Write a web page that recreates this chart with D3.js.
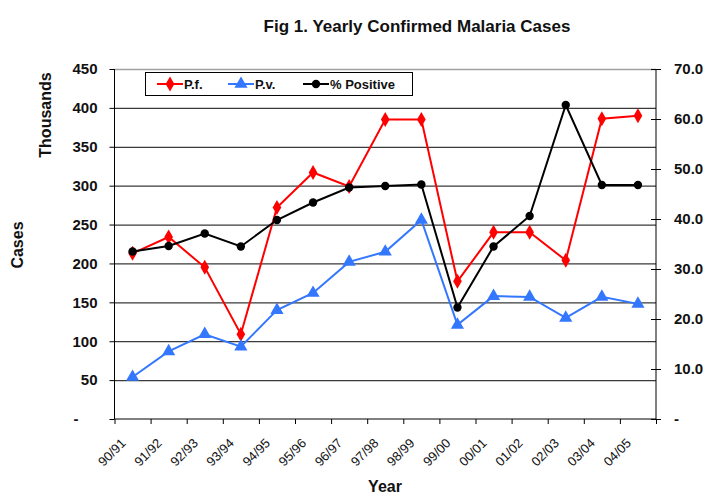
<!DOCTYPE html>
<html>
<head>
<meta charset="utf-8">
<script src="https://cdn.jsdelivr.net/npm/d3@7"></script>
<style>
  html, body { margin: 0; padding: 0; background: #fff; }
  svg { display: block; font-family: "Liberation Sans", Arial, sans-serif; }
</style>
</head>
<body>
<svg id="chart" width="705" height="494"></svg>
<script>
// ---- data ----
const categories = ["90/91","91/92","92/93","93/94","94/95","95/96","96/97","97/98","98/99","99/00","00/01","01/02","02/03","03/04","04/05"];
const pfValues  = [213, 234, 195, 109, 272, 317, 299, 385, 385, 177, 240, 240, 204, 386, 390];
const pvValues  = [54, 87, 109, 93, 140, 162, 202, 215, 256, 121, 158, 157, 130, 157, 148];
const positiveValues = [33.5, 34.6, 37.1, 34.5, 39.8, 43.3, 46.3, 46.6, 46.9, 22.3, 34.5, 40.6, 62.8, 46.8, 46.8];
const leftTicks  = [0, 50, 100, 150, 200, 250, 300, 350, 400, 450];
const rightTicks = [0, 10, 20, 30, 40, 50, 60, 70];
const seriesNames = ["P.f.", "P.v.", "% Positive"];

// ---- layout ----
const L = 114.5, R = 656, T = 69, B = 419;
const svg = d3.select("#chart");

const x = d3.scaleBand().domain(categories).range([L, R]);
const xIdx = d3.scaleLinear().domain([0, categories.length]).range([L, R]);
const yL = d3.scaleLinear().domain([0, 450]).range([B, T]);
const yR = d3.scaleLinear().domain([0, 70]).range([B, T]);

// title
svg.append("text").attr("x", 417).attr("y", 32).attr("text-anchor", "middle")
  .attr("font-size", 17).attr("font-weight", "bold").attr("fill", "#111")
  .text("Fig 1. Yearly Confirmed Malaria Cases");

// gridlines
const grid = svg.append("g").attr("transform", `translate(${L},0)`)
  .call(d3.axisLeft(yL).tickValues(leftTicks.filter(d => d > 0)).tickSize(-(R - L)).tickFormat(""));
grid.select(".domain").remove();
grid.selectAll(".tick line").attr("stroke", d => d === 450 ? "#a0a0a0" : "#3a3a3a").attr("stroke-width", 1.3);

// left axis
const ax = svg.append("g").attr("transform", `translate(${L},0)`)
  .call(d3.axisLeft(yL).tickValues(leftTicks).tickSize(5).tickPadding(12)
    .tickFormat(d => d === 0 ? "-" : d));
ax.select(".domain").attr("stroke", "#000").attr("d", `M0,${T}V${B}`);
ax.selectAll("text").attr("font-size", 15).attr("font-weight", "bold").attr("fill", "#111")
  .attr("font-family", "Liberation Sans, Arial, sans-serif");
ax.selectAll(".tick").filter(d => d === 0).select("text").attr("text-anchor", "middle").attr("x", 76 - L);

// right axis
const ar = svg.append("g").attr("transform", `translate(${R},0)`)
  .call(d3.axisRight(yR).tickValues(rightTicks).tickSize(5).tickPadding(13)
    .tickFormat(d => d === 0 ? "-" : d.toFixed(1)));
ar.select(".domain").attr("stroke", "#000").attr("d", `M0,${T}V${B}`);
ar.selectAll(".tick line").attr("x1", -5).attr("x2", 5);
ar.selectAll("text").attr("font-size", 15).attr("font-weight", "bold").attr("fill", "#111")
  .attr("font-family", "Liberation Sans, Arial, sans-serif");

// x axis tick marks between categories
const axt = svg.append("g").attr("transform", `translate(0,${B})`)
  .call(d3.axisBottom(xIdx).tickValues(d3.range(categories.length + 1)).tickSize(5).tickFormat(""));
axt.select(".domain").attr("stroke", "#000").attr("d", `M${L},0H${R}`);

// x labels
const axl = svg.append("g").attr("transform", `translate(0,${B})`)
  .call(d3.axisBottom(x).tickSize(0));
axl.select(".domain").remove();
axl.selectAll("text")
  .attr("x", 0).attr("y", 0).attr("dy", 0)
  .attr("transform", "translate(-6,25) rotate(-45)")
  .attr("text-anchor", "end").attr("font-size", 13).attr("fill", "#111")
  .attr("font-family", "Liberation Sans, Arial, sans-serif");

// axis titles
svg.append("text").attr("transform", "translate(51,115) rotate(-90)").attr("text-anchor", "middle")
  .attr("font-size", 16).attr("font-weight", "bold").attr("fill", "#111").text("Thousands");
svg.append("text").attr("transform", "translate(23,245) rotate(-90)").attr("text-anchor", "middle")
  .attr("font-size", 16).attr("font-weight", "bold").attr("fill", "#111").text("Cases");
svg.append("text").attr("x", 385).attr("y", 492).attr("text-anchor", "middle")
  .attr("font-size", 16).attr("font-weight", "bold").attr("fill", "#111").text("Year");

// series
const cx = i => x(categories[i]) + x.bandwidth() / 2;
const series = [
  { name: seriesNames[0], values: pfValues, y: yL, color: "#ff0000", symbol: d3.symbolDiamond, size: 65 },
  { name: seriesNames[1], values: pvValues, y: yL, color: "#3377ff", symbol: d3.symbolTriangle, size: 75 },
  { name: seriesNames[2], values: positiveValues, y: yR, color: "#000000", symbol: d3.symbolCircle, size: 55 }
];
series.forEach(s => {
  const line = d3.line().x((d, i) => cx(i)).y(d => s.y(d));
  svg.append("path").attr("d", line(s.values)).attr("fill", "none")
    .attr("stroke", s.color).attr("stroke-width", 2);
  svg.append("g").selectAll("path").data(s.values).join("path")
    .attr("transform", (d, i) => `translate(${cx(i)},${s.y(d)})`)
    .attr("d", d3.symbol().type(s.symbol).size(s.size)())
    .attr("fill", s.color);
});

// legend
const lg = svg.append("g");
lg.append("rect").attr("x", 145.5).attr("y", 72.5).attr("width", 267).attr("height", 23)
  .attr("fill", "#fff").attr("stroke", "#000").attr("stroke-width", 1);
const legendX = [157, 228, 303];
series.forEach((s, i) => {
  const x0 = legendX[i];
  lg.append("line").attr("x1", x0).attr("x2", x0 + 26).attr("y1", 84).attr("y2", 84)
    .attr("stroke", s.color).attr("stroke-width", 2);
  lg.append("path").attr("transform", `translate(${x0 + 13},84)`)
    .attr("d", d3.symbol().type(s.symbol).size(s.size)()).attr("fill", s.color);
  lg.append("text").attr("x", x0 + 27).attr("y", 88.5).attr("font-size", 13)
    .attr("font-weight", "bold").attr("fill", "#111").text(s.name);
});
</script>
</body>
</html>
